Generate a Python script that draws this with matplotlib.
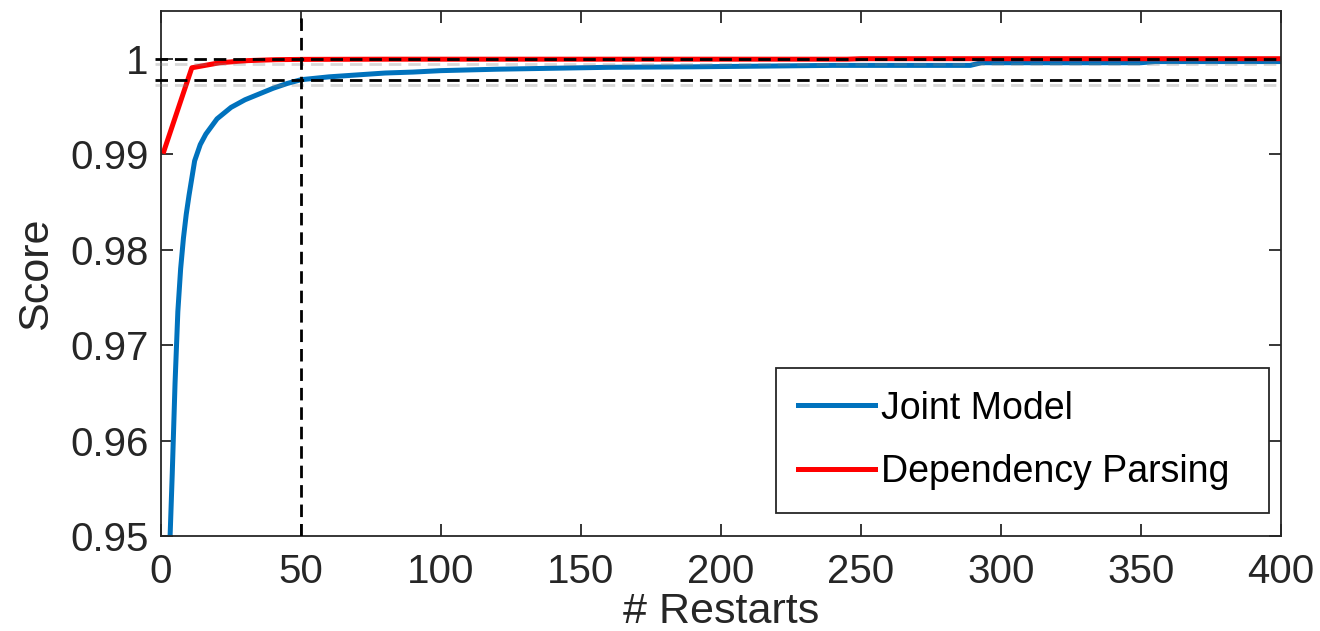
import matplotlib
matplotlib.use("Agg")
import matplotlib.pyplot as plt
import matplotlib.patheffects as pe

plt.rcParams['font.family'] = ['Liberation Sans', 'DejaVu Sans']

# Joint model score vs number of restarts
joint_x = [3, 4, 5, 6, 7, 8, 9, 10, 12, 14, 16, 20, 25, 30, 35, 40, 45, 50,
           60, 70, 80, 90, 100, 120, 140, 160, 190, 240, 289, 293, 350, 355, 400]
joint_y = [0.9480, 0.9565, 0.9660, 0.9735, 0.9780, 0.9812, 0.9837, 0.9857,
           0.9893, 0.9910, 0.9921, 0.9937, 0.9949, 0.9957, 0.9963, 0.9969,
           0.9974, 0.9978, 0.9981, 0.9983, 0.9985, 0.9986, 0.99875, 0.9989,
           0.9990, 0.9991, 0.99915, 0.9993, 0.9993, 0.99958, 0.99958,
           0.9997, 0.9997]

# Dependency parsing score vs number of restarts
dep_x = [1, 11, 21, 31, 41, 51, 81, 245, 250, 400]
dep_y = [0.9903, 0.99905, 0.99958, 0.9998, 0.9999, 0.99993, 0.99995,
         0.99995, 1.0, 1.0]

x_ticks = [0, 50, 100, 150, 200, 250, 300, 350, 400]
y_ticks = [0.95, 0.96, 0.97, 0.98, 0.99, 1.0]
y_labels = ['0.95', '0.96', '0.97', '0.98', '0.99', '1']

ref_x = 50
ref_levels = [1.0, 0.9978]

fig = plt.figure(figsize=(13.2, 6.31), dpi=100)
ax = fig.add_axes([0.122, 0.1506, 0.8485, 0.832])

ax.plot(joint_x, joint_y, color='#0072BD', lw=3.6, label='Joint Model')
ax.plot(dep_x, dep_y, color='#FF0000', lw=3.6, label='Dependency Parsing')

# reference lines
dash = (0, (4.5, 2.5))
shadow = [pe.SimpleLineShadow(offset=(0, -4), shadow_color='gray', alpha=0.3),
          pe.Normal()]
for lvl in ref_levels:
    ax.plot([-2, 400], [lvl, lvl], color='black', lw=2, ls=dash,
            clip_on=False, path_effects=shadow, zorder=3)
ax.axvline(ref_x, color='black', lw=2, ls=dash, zorder=3)

ax.set_xlim(0, 400)
ax.set_ylim(0.95, 1.005)
ax.set_xticks(x_ticks)
ax.set_yticks(y_ticks)
ax.set_yticklabels(y_labels)
ax.tick_params(direction='in', length=8.5, width=1.3, labelsize=29,
               colors='#262626', top=True, right=True)
ax.tick_params(axis='x', pad=12)
ax.tick_params(axis='y', pad=9)
for s in ax.spines.values():
    s.set_linewidth(1.3)
    s.set_color('#262626')

ax.set_xlabel('# Restarts', fontsize=31, color='#262626')
ax.set_ylabel('Score', fontsize=31, color='#262626')
ax.xaxis.set_label_coords(0.5, -0.106)
ax.yaxis.set_label_coords(-0.094, 0.5)

leg = ax.legend(loc='lower left', bbox_to_anchor=(0.549, 0.044, 0.44, 0.27),
                mode='expand', fontsize=27, handlelength=2.05,
                handletextpad=0.15, labelspacing=0.74, borderpad=0.6,
                fancybox=False, framealpha=1, edgecolor='#262626',
                borderaxespad=0)
leg.get_frame().set_linewidth(1.3)

fig.savefig('out.png', dpi=100)
